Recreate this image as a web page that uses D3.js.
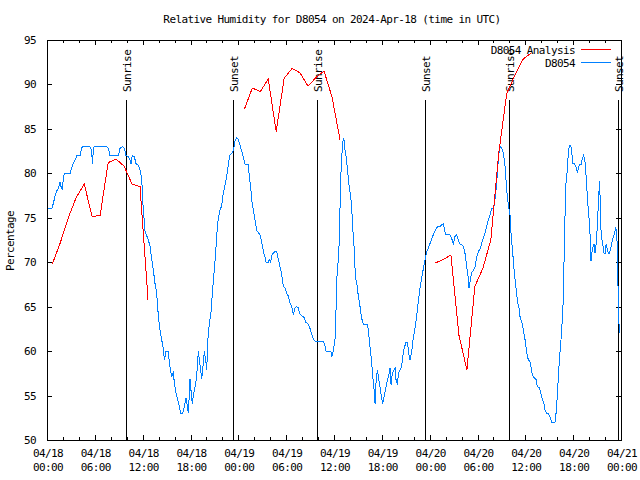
<!DOCTYPE html>
<html><head><meta charset="utf-8">
<script src="https://cdn.jsdelivr.net/npm/d3@7"></script>
<style>
body{margin:0;background:#fff}
svg{display:block}
text{font-family:"DejaVu Sans Mono","Liberation Mono",monospace;font-size:11px;letter-spacing:-0.6px;fill:#000}
</style></head><body>
<svg id="c" width="640" height="480"></svg>
<script>
const title = "Relative Humidity for D8054 on 2024-Apr-18 (time in UTC)";
const yLabel = "Percentage";
const yTicks = [50,55,60,65,70,75,80,85,90,95];
const seriesNames = ["D8054 Analysis","D8054"];
const seriesColors = ["#ff0000","#0080ff"];
const sunLabels = ["Sunrise","Sunset","Sunrise","Sunset","Sunrise","Sunset"];
const sunHours = [9.95,23.37,33.91,47.45,57.99,71.59];

// D8054 observations: hours since 2024-04-18 00:00 UTC and relative humidity (%)
const obsHours = [0.08,0.59,0.79,1.00,1.21,1.42,1.63,1.76,1.92,2.05,2.17,2.89,3.09,3.30,3.60,3.72,4.14,4.35,4.43,5.39,5.60,5.69,5.81,5.90,7.48,7.69,7.90,8.95,9.16,9.45,9.70,9.91,10.20,10.41,10.54,10.70,10.95,11.16,11.46,11.66,11.87,11.96,12.08,12.21,12.29,
12.71,12.92,13.13,13.34,13.55,13.76,13.97,14.17,14.38,14.59,14.72,14.93,15.22,15.35,15.52,15.64,15.85,15.97,16.18,16.39,16.60,16.77,17.02,17.23,17.44,17.60,17.73,17.94,18.06,18.23,18.36,18.57,18.77,18.98,19.11,19.28,19.40,19.61,19.74,19.90,20.03,20.20,20.37,20.57,20.74,20.95,21.12,21.28,21.41,21.58,21.74,21.91,22.04,22.20,22.37,22.54,22.67,22.79,22.96,23.21,23.38,23.58,23.79,24.00,24.21,24.42,24.75,
24.84,25.26,25.38,25.55,25.67,25.88,26.09,26.30,26.51,26.72,26.93,27.14,27.34,27.47,27.76,27.89,28.06,28.18,28.39,28.60,28.81,29.02,29.23,29.44,29.65,29.86,30.07,30.27,30.48,30.69,30.90,31.11,31.32,31.53,31.65,31.82,32.07,32.24,32.49,32.70,32.91,33.07,33.20,33.41,33.62,34.66,34.87,35.00,35.50,35.62,35.71,35.92,36.13,36.25,36.34,36.46,36.67,36.75,
36.84,36.96,37.09,37.17,37.30,37.38,37.51,37.68,37.80,37.93,38.09,38.22,38.34,38.51,38.64,38.76,38.93,39.05,39.18,39.35,39.47,39.68,40.18,40.31,40.44,40.60,40.73,40.85,40.94,41.06,41.15,41.27,41.44,41.57,41.69,41.86,41.98,42.11,42.28,42.40,42.61,42.82,42.95,43.03,43.16,43.32,43.53,43.66,43.78,43.95,44.08,44.29,44.49,44.62,44.79,45.04,45.21,45.33,45.46,45.54,45.67,45.79,45.96,46.17,46.37,46.58,46.79,47.00,47.21,47.42,47.63,47.84,48.04,48.25,48.46,48.67,48.97,49.30,
49.51,49.72,49.84,50.01,50.55,50.76,50.97,51.18,51.39,51.60,51.81,52.02,52.22,52.43,52.64,52.77,52.94,53.10,53.27,53.48,53.69,53.90,54.11,54.32,54.52,54.73,54.94,55.15,55.36,55.57,55.78,55.99,56.11,56.28,56.41,56.53,56.70,56.82,57.03,57.24,57.45,57.57,57.70,57.87,58.08,58.20,58.37,58.49,58.62,58.79,58.91,59.04,59.21,59.33,59.54,59.75,59.88,59.96,60.17,60.38,60.59,
60.80,60.98,61.34,61.50,61.76,61.92,62.17,62.34,62.47,62.68,62.89,63.10,63.30,63.72,63.85,64.02,64.14,64.27,64.43,64.56,64.68,64.77,64.85,64.98,65.10,65.27,65.40,65.52,65.69,65.82,65.94,66.11,66.23,66.44,66.53,66.65,66.78,66.99,67.11,67.28,67.40,67.49,67.61,67.78,67.91,68.03,68.12,68.24,68.33,68.45,68.62,68.75,68.87,68.96,69.04,69.17,69.25,69.33,69.37,69.46,69.58,69.71,69.88,70.00,70.13,70.30,70.42,70.55,70.72,70.84,70.97,71.14,71.26,71.35,71.47,71.56,71.60,71.68,71.81];
const obsValues = [76.0,76.0,76.6,77.4,78.0,78.3,79.0,78.5,78.1,79.4,80.0,80.0,80.6,81.1,81.6,82.0,82.0,82.8,83.0,83.0,82.5,81.1,82.5,83.0,83.0,82.8,82.0,82.0,82.8,83.0,82.8,82.0,81.9,81.5,81.1,82.0,81.9,81.1,80.9,80.4,79.4,78.1,75.8,74.6,73.5,
72.5,71.8,70.4,69.1,67.6,66.5,63.9,62.4,61.3,60.3,59.0,60.0,60.0,58.6,57.7,57.1,57.7,56.4,55.3,54.5,53.8,53.0,53.0,53.8,54.7,53.8,53.0,56.9,55.6,54.0,55.1,56.0,57.1,60.0,59.0,57.9,56.9,58.6,60.0,59.0,57.9,61.6,63.1,64.4,66.5,68.8,70.6,72.9,74.4,75.3,76.0,76.3,77.4,78.1,78.9,79.6,80.5,81.3,82.1,82.3,82.6,83.6,84.0,83.8,83.2,82.5,81.4,
81.0,81.0,79.6,78.5,77.0,75.9,74.8,73.6,73.3,73.1,72.3,71.2,70.6,70.0,70.0,70.3,70.0,70.8,71.0,71.2,71.2,70.3,69.5,68.6,67.3,67.1,66.5,66.2,65.4,65.0,64.1,64.9,65.0,64.9,64.3,64.1,63.9,63.8,63.2,63.1,62.8,62.3,61.9,61.4,61.1,61.1,60.6,60.0,60.0,59.9,59.3,60.0,61.4,64.5,68.1,69.3,72.4,75.9,
79.3,81.7,83.4,83.9,83.6,82.6,81.9,80.6,79.4,78.3,77.4,76.1,74.0,71.8,69.3,68.0,67.3,66.1,65.6,64.4,63.7,63.0,63.0,62.4,61.1,59.8,58.6,57.3,56.4,55.4,54.1,56.4,57.9,57.1,56.4,55.4,54.7,54.1,54.9,55.4,56.4,57.1,57.7,58.1,56.2,57.5,57.9,58.1,56.8,56.2,57.5,57.9,58.3,59.4,60.3,61.0,61.0,60.1,59.2,59.0,59.6,60.3,61.6,62.6,63.9,65.6,67.1,68.2,69.3,70.3,71.2,71.6,72.1,72.6,73.1,73.5,74.0,74.0,
74.2,74.3,73.8,73.1,73.1,72.7,72.0,72.9,73.1,72.5,72.0,72.0,71.8,71.0,69.5,68.8,67.1,68.0,68.8,69.1,69.5,70.6,71.2,71.5,72.1,72.7,73.3,74.0,74.8,75.3,76.1,76.1,76.4,77.8,78.9,80.6,82.3,83.0,82.9,82.3,80.8,79.3,77.8,76.4,75.3,73.3,71.5,70.3,68.8,67.4,66.5,65.4,64.8,63.9,63.3,62.4,61.6,61.3,59.8,59.0,58.8,
57.7,57.1,56.8,56.0,55.9,55.3,54.5,54.1,53.4,53.0,53.0,52.6,52.0,52.0,53.0,55.1,57.1,59.0,60.7,62.4,64.3,66.1,69.9,75.3,78.9,80.4,82.5,83.1,83.1,82.5,81.1,81.1,80.9,80.6,80.0,80.6,81.0,81.0,81.5,82.0,81.7,81.3,79.8,77.4,75.7,74.6,73.1,70.1,70.9,71.6,72.0,71.0,72.0,73.1,74.0,77.0,78.1,79.1,77.4,74.0,72.7,72.0,71.0,71.0,72.0,71.4,71.0,71.0,71.6,72.1,72.7,73.1,73.6,74.0,72.7,71.9,68.8,64.3,62.0];

// D8054 Analysis: hourly, null marks a gap in the record
const anaHours = [0.67,1.67,2.67,3.67,4.67,5.67,6.67,7.67,8.67,9.67,10.67,11.67,12.67,18.0,
24.75,25.75,26.75,27.75,28.75,29.75,30.75,31.75,32.75,33.75,34.75,35.75,36.75,42.0,
48.67,49.67,50.67,51.67,52.67,53.67,54.67,55.67,56.67,57.67,58.67,59.67,60.67];
const anaValues = [69.8,72.2,75.0,77.3,78.8,75.1,75.3,81.2,81.6,80.8,78.8,78.5,65.8,null,
87.2,89.6,89.2,90.6,84.7,90.7,91.8,91.3,89.8,90.8,91.5,88.6,83.8,null,
69.9,70.3,70.8,61.8,57.9,67.3,69.3,72.5,82.3,89.0,91.0,92.8,93.5];

const t0 = Date.UTC(2024,3,18);
const toDate = h => new Date(t0 + h*3600e3);
const obs = obsHours.map((h,i)=>({t:toDate(h), v:obsValues[i]}));
const ana = anaHours.map((h,i)=>({t:toDate(h), v:anaValues[i]}));

const L=47, R=621, T=40, B=440;
const svg = d3.select("#c");
const x = d3.scaleUtc().domain([new Date(t0), new Date(t0+72*3600e3)]).range([L,R]);
const y = d3.scaleLinear().domain([50,95]).range([B,T]);

const majors = x.ticks(d3.utcHour.every(6));
const minors = x.ticks(d3.utcHour.every(2)).filter(d => d.getUTCHours()%6 !== 0);

function axisG(axis, tr){
  const g = svg.append("g").attr("transform", tr).call(axis);
  g.select(".domain").remove();
  g.selectAll("line").attr("stroke","#000").attr("shape-rendering","crispEdges");
  return g;
}
axisG(d3.axisBottom(x).tickValues(majors).tickSize(-5).tickSizeOuter(0).tickFormat(""), `translate(0,${B})`);
axisG(d3.axisBottom(x).tickValues(minors).tickSize(-3).tickSizeOuter(0).tickFormat(""), `translate(0,${B})`);
axisG(d3.axisTop(x).tickValues(majors).tickSize(-5).tickSizeOuter(0).tickFormat(""), `translate(0,${T})`);
axisG(d3.axisTop(x).tickValues(minors).tickSize(-3).tickSizeOuter(0).tickFormat(""), `translate(0,${T})`);
const gl = axisG(d3.axisLeft(y).tickValues(yTicks).tickSize(-5).tickSizeOuter(0).tickPadding(11), `translate(${L},0)`);
gl.selectAll("text").attr("font-family",null).attr("font-size",null).attr("fill","#000");
axisG(d3.axisRight(y).tickValues(yTicks).tickSize(-5).tickSizeOuter(0).tickFormat(""), `translate(${R},0)`);

// x tick labels (two lines)
const fDay = d3.utcFormat("%m/%d"), fTime = d3.utcFormat("%H:%M");
const xl = svg.append("g").selectAll("text").data(majors).join("text")
  .attr("text-anchor","middle").attr("transform", d=>`translate(${x(d)+1},0)`);
xl.append("tspan").attr("x",0).attr("y",457).text(fDay);
xl.append("tspan").attr("x",0).attr("y",471).text(fTime);

// border
svg.append("rect").attr("x",L+0.5).attr("y",T+0.5).attr("width",R-L).attr("height",B-T)
  .attr("fill","none").attr("stroke","#000").attr("shape-rendering","crispEdges");

// sunrise / sunset
const sun = svg.append("g");
sunHours.forEach((h,i)=>{
  const sx = Math.round(x(toDate(h)))+0.5;
  sun.append("line").attr("x1",sx).attr("x2",sx).attr("y1",100).attr("y2",B)
    .attr("stroke","#000").attr("shape-rendering","crispEdges");
  sun.append("text").attr("transform",`translate(${sx+4.5},92) rotate(-90)`)
    .attr("text-anchor","start").text(sunLabels[i]);
});

// clip
svg.append("clipPath").attr("id","clip").append("rect").attr("x",L).attr("y",T).attr("width",R-L+1).attr("height",B-T+1);

const line = d3.line().defined(d=>d.v!=null).x(d=>x(d.t)).y(d=>y(d.v));
svg.append("path").datum(obs).attr("d",line).attr("fill","none").attr("stroke",seriesColors[1])
  .attr("stroke-width",1).attr("clip-path","url(#clip)").attr("shape-rendering","crispEdges");
svg.append("path").datum(ana).attr("d",line).attr("fill","none").attr("stroke",seriesColors[0])
  .attr("stroke-width",1).attr("clip-path","url(#clip)").attr("shape-rendering","crispEdges");

// legend
seriesNames.forEach((n,i)=>{
  const ly = 49.5 + i*13;
  svg.append("text").attr("x",575).attr("y",ly+4).attr("text-anchor","end").text(n);
  svg.append("line").attr("x1",581).attr("x2",611).attr("y1",ly).attr("y2",ly)
    .attr("stroke",seriesColors[i]).attr("shape-rendering","crispEdges");
});

// title & y label
svg.append("text").attr("x",332).attr("y",23).attr("text-anchor","middle").text(title);
svg.append("text").attr("transform","translate(14,241) rotate(-90)").attr("text-anchor","middle").text(yLabel);
</script>
</body></html>
